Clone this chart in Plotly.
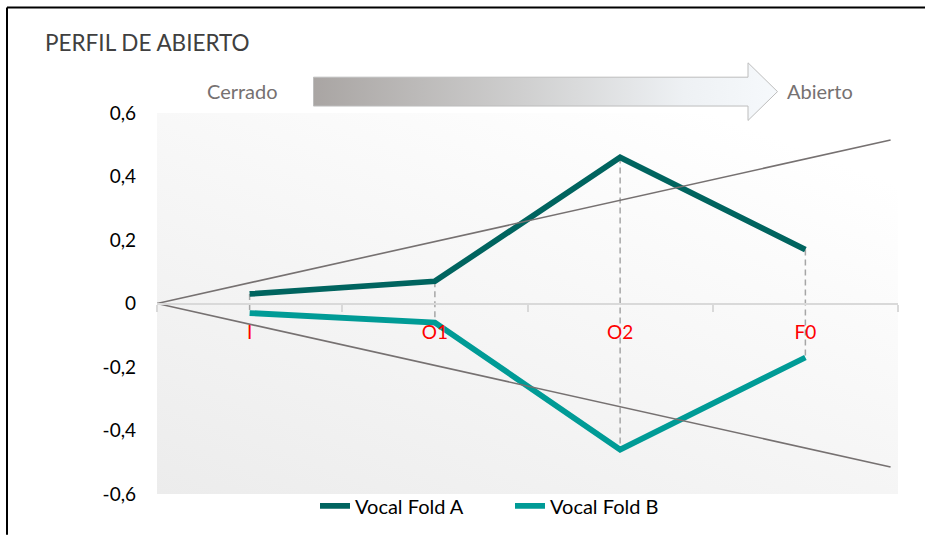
import base64
import plotly.graph_objects as go

# ---- data ----
categories = ["I", "O1", "O2", "F0"]
fold_a = [0.03, 0.07, 0.46, 0.17]
fold_b = [-0.03, -0.06, -0.46, -0.17]
y_tick_vals = [-0.6, -0.4, -0.2, 0, 0.2, 0.4, 0.6]
y_tick_text = ["-0,6", "-0,4", "-0,2", "0", "0,2", "0,4", "0,6"]
funnel_x = [0, 3.96]
funnel_upper = [0, 0.515]
funnel_lower = [0, -0.515]

# ---- layout geometry (pixels) ----
WIDTH, HEIGHT = 925, 537
L, R, T, B = 157, 898, 113, 496
PW, PH = R - L, B - T


def px_x(p):
    return (p - L) / PW


def px_y(p):
    return (B - p) / PH


FONT = "Lato"
COL_A = "#00645f"
COL_B = "#009b96"

fig = go.Figure()

# funnel reference lines (secondary linear x axis)
fig.add_trace(go.Scatter(x=funnel_x, y=funnel_upper, xaxis="x2", yaxis="y", mode="lines",
                         line=dict(color="#767171", width=1.6), showlegend=False, hoverinfo="skip"))
fig.add_trace(go.Scatter(x=funnel_x, y=funnel_lower, xaxis="x2", yaxis="y", mode="lines",
                         line=dict(color="#767171", width=1.6), showlegend=False, hoverinfo="skip"))

# high-low dashed lines between the two series
drop_x, drop_y = [], []
for c, a, b in zip(categories, fold_a, fold_b):
    drop_x += [c, c, None]
    drop_y += [a, b, None]
fig.add_trace(go.Scatter(x=drop_x, y=drop_y, mode="lines",
                         line=dict(color="#a6a6a6", width=1.5, dash="6px,4px"),
                         showlegend=False, hoverinfo="skip"))

fig.add_trace(go.Scatter(x=categories, y=fold_a, mode="lines", name="Vocal Fold A",
                         line=dict(color=COL_A, width=5.8)))
fig.add_trace(go.Scatter(x=categories, y=fold_b, mode="lines", name="Vocal Fold B",
                         line=dict(color=COL_B, width=5.8)))

# ---- background gradient image for plot area ----
bg_svg = (
    "<svg xmlns='http://www.w3.org/2000/svg' width='741' height='383' viewBox='0 0 741 383' "
    "preserveAspectRatio='none'><defs><linearGradient id='g' x1='0' y1='1' x2='0.75' y2='0'>"
    "<stop offset='0' stop-color='#ececec'/><stop offset='1' stop-color='#ffffff'/>"
    "</linearGradient></defs><rect width='741' height='383' fill='url(#g)'/></svg>"
)
bg_uri = "data:image/svg+xml;base64," + base64.b64encode(bg_svg.encode()).decode()

# ---- arrow image ----
AX0, AX1, AY0, AY1 = 313, 778, 62, 121
aw, ah = AX1 - AX0, AY1 - AY0
body_top, body_bot, head_x = 77 - AY0, 106 - AY0, 748 - AX0
arrow_svg = (
    f"<svg xmlns='http://www.w3.org/2000/svg' width='{aw}' height='{ah}' viewBox='0 0 {aw} {ah}' "
    "preserveAspectRatio='none'><defs><linearGradient id='a' x1='0' y1='0' x2='1' y2='0'>"
    "<stop offset='0' stop-color='#a9a5a3'/><stop offset='0.45' stop-color='#cfcfcf'/>"
    "<stop offset='0.8' stop-color='#eef1f4'/><stop offset='1' stop-color='#f6f9fc'/>"
    "</linearGradient></defs>"
    f"<path d='M0.5,{body_top} L{head_x},{body_top} L{head_x},0.5 L{aw-0.5},{ah/2} "
    f"L{head_x},{ah-0.5} L{head_x},{body_bot} L0.5,{body_bot} Z' fill='url(#a)' "
    "stroke='#bdbdbd' stroke-width='1'/></svg>"
)
arrow_uri = "data:image/svg+xml;base64," + base64.b64encode(arrow_svg.encode()).decode()

images = [
    dict(source=bg_uri, xref="paper", yref="paper", x=0, y=1, sizex=1, sizey=1,
         sizing="stretch", xanchor="left", yanchor="top", layer="below"),
    dict(source=arrow_uri, xref="paper", yref="paper", x=px_x(AX0), y=px_y(AY0),
         sizex=aw / PW, sizey=ah / PH, sizing="stretch", xanchor="left", yanchor="top",
         layer="above"),
]

annotations = [
    dict(text="PERFIL DE ABIERTO", xref="paper", yref="paper", x=px_x(43), y=px_y(42),
         xanchor="left", yanchor="middle", showarrow=False,
         font=dict(family=FONT, size=22.5, color="#404040")),
    dict(text="Cerrado", xref="paper", yref="paper", x=px_x(242), y=px_y(91),
         xanchor="center", yanchor="middle", showarrow=False,
         font=dict(family=FONT, size=20, color="#767171")),
    dict(text="Abierto", xref="paper", yref="paper", x=px_x(820), y=px_y(91),
         xanchor="center", yanchor="middle", showarrow=False,
         font=dict(family=FONT, size=20, color="#767171")),
]

shapes = [
    dict(type="line", xref="paper", yref="paper", x0=px_x(7), x1=px_x(925), y0=px_y(7), y1=px_y(7),
         line=dict(color="black", width=2)),
    dict(type="line", xref="paper", yref="paper", x0=px_x(7), x1=px_x(7), y0=px_y(7), y1=px_y(537),
         line=dict(color="black", width=2)),
]

fig.update_layout(
    width=WIDTH, height=HEIGHT,
    margin=dict(l=L, r=WIDTH - R, t=T, b=HEIGHT - B, pad=0),
    paper_bgcolor="white", plot_bgcolor="rgba(0,0,0,0)",
    font=dict(family=FONT, color="black"),
    xaxis=dict(type="category", categoryorder="array", categoryarray=categories,
               range=[-0.5, 3.5], domain=[0, 1], tickson="boundaries", ticks="outside",
               ticklen=7, tickcolor="#d9d9d9", tickwidth=1.5, showline=True,
               linecolor="#d9d9d9", linewidth=2, showgrid=False, zeroline=False,
               anchor="free", position=0.5, tickfont=dict(family=FONT, size=19, color="red"),
               ticklabelstandoff=12, fixedrange=True),
    xaxis2=dict(overlaying="x", range=[0, 4], visible=False, fixedrange=True),
    yaxis=dict(range=[-0.6, 0.6], domain=[0, 1], tickvals=y_tick_vals, ticktext=y_tick_text,
               ticks="", showgrid=False, zeroline=False, showline=False,
               tickfont=dict(family=FONT, size=19, color="black"), ticklabelstandoff=20,
               fixedrange=True),
    legend=dict(orientation="h", x=px_x(510), xanchor="center", y=px_y(508), yanchor="middle",
                font=dict(family=FONT, size=20, color="black"), bgcolor="rgba(0,0,0,0)",
                entrywidth=150, entrywidthmode="pixels"),
    images=images, annotations=annotations, shapes=shapes,
    showlegend=True,
)

fig.write_html("out.html", config={"displayModeBar": False},
               post_script="document.body.style.margin='0';document.body.style.overflow='hidden';")
